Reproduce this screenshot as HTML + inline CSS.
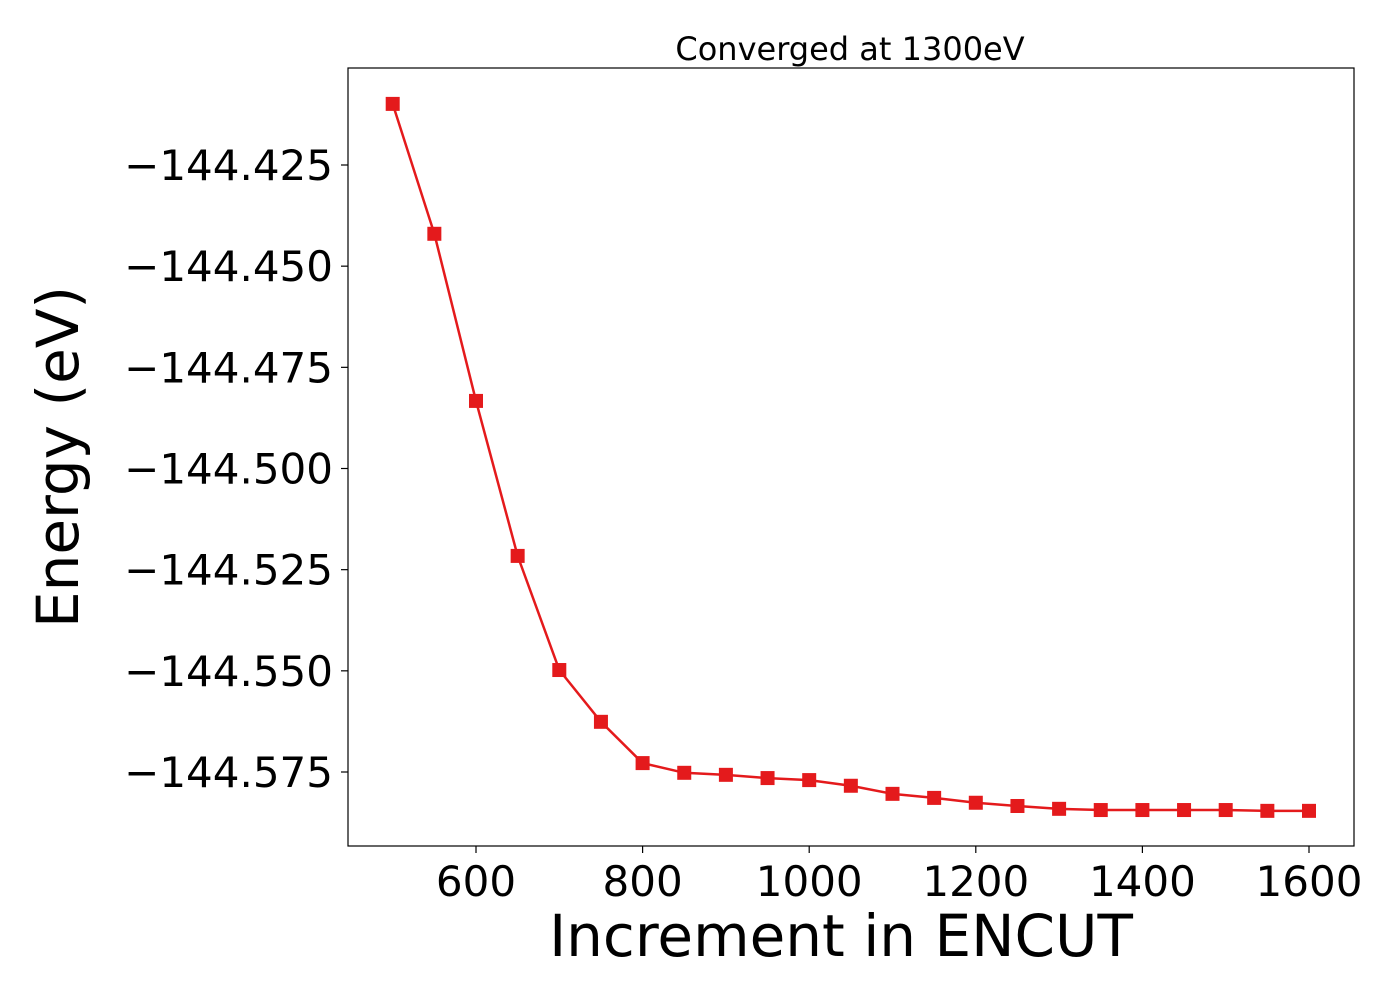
<!DOCTYPE html>
<html><head><meta charset="utf-8"><style>
html,body{margin:0;padding:0;background:#fff;}
svg{display:block;font-family:"DejaVu Sans","Liberation Sans",sans-serif;}
</style></head><body>
<svg id="chart" width="1400" height="1000" viewBox="0 0 1400 1000">
<rect x="0" y="0" width="1400" height="1000" fill="#fff"/>
<text x="850" y="60" font-size="32" text-anchor="middle">Converged at 1300eV</text>
<g id="xaxis"></g>
<g id="yaxis"></g>
<g id="series"></g>
<rect x="348" y="68" width="1006" height="778" fill="none" stroke="#000" stroke-width="1.2"/>
<text x="841" y="956" font-size="58" text-anchor="middle">Increment in ENCUT</text>
<text transform="translate(78,457) rotate(-90)" font-size="58" text-anchor="middle">Energy (eV)</text>
</svg>
<script>
const encut = [500,550,600,650,700,750,800,850,900,950,1000,1050,1100,1150,1200,1250,1300,1350,1400,1450,1500,1550,1600];
const energy = [-144.4099,-144.4420,-144.4833,-144.5216,-144.5498,-144.5626,-144.5728,-144.5752,-144.5757,-144.5765,-144.5770,-144.5784,-144.5804,-144.5814,-144.5826,-144.5834,-144.5841,-144.5844,-144.5844,-144.5844,-144.5844,-144.5846,-144.5846];
const xTicks = [600,800,1000,1200,1400,1600];
const yTicks = [-144.425,-144.450,-144.475,-144.500,-144.525,-144.550,-144.575];
const yTickLabels = ["\u2212144.425","\u2212144.450","\u2212144.475","\u2212144.500","\u2212144.525","\u2212144.550","\u2212144.575"];

const NS = "http://www.w3.org/2000/svg";
function xs(v){ return 476 + (v-600)*(1309-476)/1000; }
function ys(v){ return 165 + (-144.425 - v)*(772-165)/0.150; }
function mk(tag, attrs, parent){ const e=document.createElementNS(NS,tag); for(const k in attrs) e.setAttribute(k,attrs[k]); parent.appendChild(e); return e; }

const xg=document.getElementById('xaxis');
xTicks.forEach(t=>{
  const x=xs(t);
  const l=mk('line',{x1:x,y1:846,x2:x,y2:853,stroke:'#000','stroke-width':1.2},xg);
  
  
  const tx=mk('text',{x:x,y:896,'font-size':42,'text-anchor':'middle'},xg);
  tx.textContent=String(t);
  
  
});
const yg=document.getElementById('yaxis');
yTicks.forEach((t,i)=>{
  const y=ys(t);
  const l=mk('line',{x1:341,y1:y,x2:348,y2:y,stroke:'#000','stroke-width':1.2},yg);
  
  
  const tx=mk('text',{x:333,y:y+15,'font-size':42,'text-anchor':'end'},yg);
  tx.textContent=yTickLabels[i];
  
  
});
const sg=document.getElementById('series');
const pts=encut.map((v,i)=>xs(v)+','+ys(energy[i])).join(' ');
const pl=mk('polyline',{points:pts,fill:'none',stroke:'#e41a1c','stroke-width':2.5},sg);


encut.forEach((v,i)=>{
  const r=mk('rect',{x:xs(v)-7,y:ys(energy[i])-7,width:14,height:14,fill:'#e41a1c'},sg);
  
  
});
</script>
</body></html>
